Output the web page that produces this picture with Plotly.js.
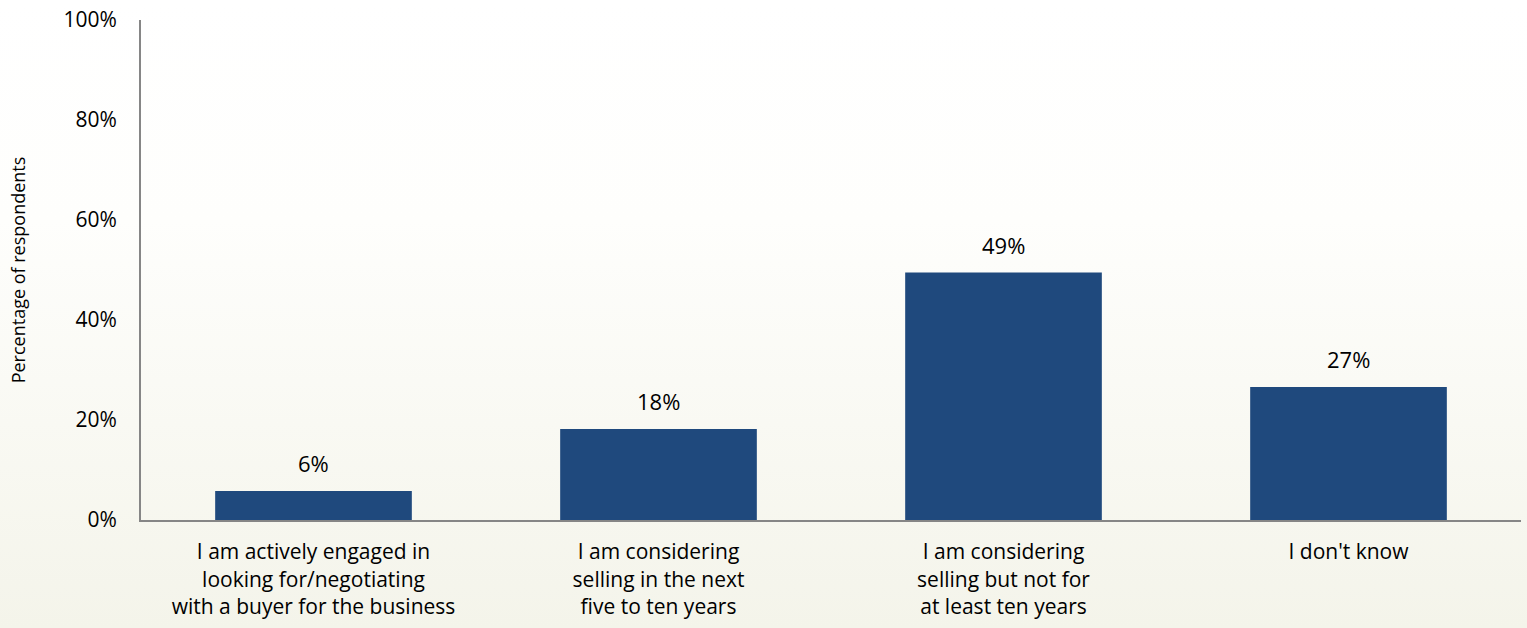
<!DOCTYPE html>
<html>
<head>
<meta charset="utf-8">
<script src="https://cdn.plot.ly/plotly-3.0.1.min.js"></script>
<style>
html, body { margin: 0; padding: 0; }
body { width: 1527px; height: 628px; background: linear-gradient(to bottom, #FFFFFF 0%, #FEFEFC 35%, #F4F4EA 100%); overflow: hidden; }
#chart { width: 1527px; height: 628px; }
</style>
</head>
<body>
<div id="chart"></div>
<script>
const categories = [
  "I am actively engaged in<br>looking for/negotiating<br>with a buyer for the business",
  "I am considering<br>selling in the next<br>five to ten years",
  "I am considering<br>selling but not for<br>at least ten years",
  "I don't know"
];
const values = [5.8, 18.2, 49.5, 26.6];
const labels = ["6%", "18%", "49%", "27%"];
const yTickVals = [0, 20, 40, 60, 80, 100];
const yTickText = ["0%", "20%", "40%", "60%", "80%", "100%"];

const FONT = "Open Sans, Noto Sans, sans-serif";

const trace = {
  type: "bar",
  x: categories,
  y: values,
  marker: { color: "#1F497D" },
  hoverinfo: "none"
};

const annotations = categories.map((c, i) => ({
  x: c, y: values[i], xref: "x", yref: "y",
  text: labels[i], showarrow: false,
  yanchor: "bottom", yshift: 11,
  font: { family: FONT, size: 22, color: "#000000" }
}));

const layout = {
  width: 1527, height: 628,
  margin: { l: 141, r: 6, t: 20, b: 108 },
  paper_bgcolor: "rgba(0,0,0,0)",
  plot_bgcolor: "rgba(0,0,0,0)",
  bargap: 0.43,
  showlegend: false,
  xaxis: {
    showline: true, linecolor: "#868686", linewidth: 2,
    ticks: "", showgrid: false, zeroline: false,
    tickfont: { family: FONT, size: 21, color: "#000000" },
    ticklabelstandoff: 12
  },
  yaxis: {
    range: [0, 100], fixedrange: true,
    tickvals: yTickVals, ticktext: yTickText,
    showline: true, linecolor: "#868686", linewidth: 2,
    ticks: "", showgrid: false, zeroline: false,
    tickfont: { family: FONT, size: 21, color: "#000000" },
    ticklabelstandoff: 18,
    title: { text: "Percentage of respondents", font: { family: FONT, size: 18, color: "#000000" }, standoff: 33 }
  },
  annotations: annotations
};

Plotly.newPlot("chart", [trace], layout, { displayModeBar: false, staticPlot: true });
</script>
</body>
</html>
